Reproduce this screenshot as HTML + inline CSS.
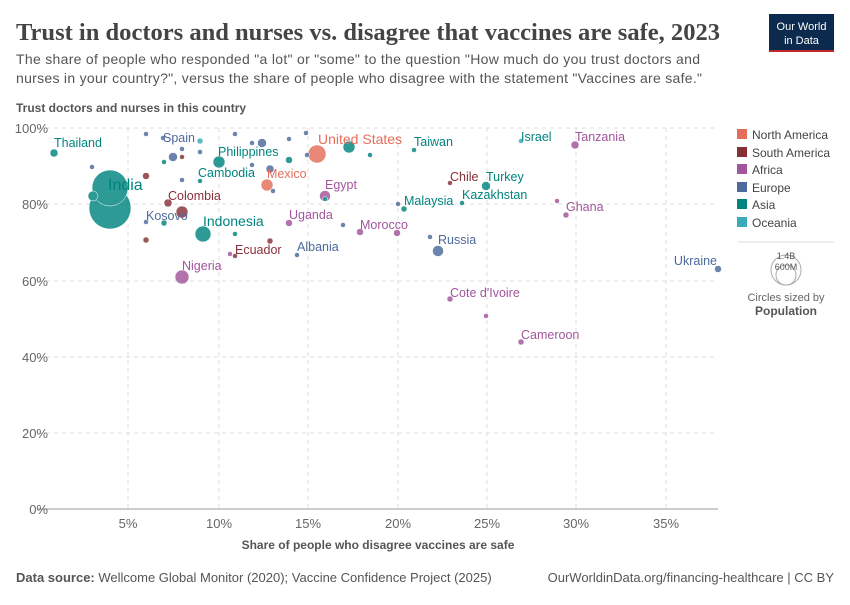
<!DOCTYPE html>
<html><head><meta charset="utf-8"><style>
body{margin:0;background:#fff;font-family:"Liberation Sans",sans-serif;}
</style></head><body>
<svg width="850" height="600" xmlns="http://www.w3.org/2000/svg" font-family="Liberation Sans, sans-serif">
<text x="16" y="40" font-family="Liberation Serif, serif" font-size="24" font-weight="bold" fill="#444" textLength="704" lengthAdjust="spacingAndGlyphs">Trust in doctors and nurses vs. disagree that vaccines are safe, 2023</text>
<rect x="769" y="14" width="65" height="38" fill="#0c2a4d"/>
<rect x="769" y="50" width="65" height="2" fill="#c0282e"/>
<text x="801.5" y="30" font-size="11" fill="#fff" text-anchor="middle">Our World</text>
<text x="801.5" y="44" font-size="11" fill="#fff" text-anchor="middle">in Data</text>
<text x="16" y="64" font-size="14" fill="#555" textLength="684">The share of people who responded "a lot" or "some" to the question "How much do you trust doctors and</text>
<text x="16" y="83" font-size="14" fill="#555" textLength="686">nurses in your country?", versus the share of people who disagree with the statement "Vaccines are safe."</text>
<text x="16" y="112" font-size="12" font-weight="bold" fill="#555">Trust doctors and nurses in this country</text>
<g stroke="#ddd" stroke-dasharray="4,4">
<line x1="38" y1="128" x2="718" y2="128"/><line x1="38" y1="204" x2="718" y2="204"/><line x1="38" y1="281" x2="718" y2="281"/><line x1="38" y1="357" x2="718" y2="357"/><line x1="38" y1="433" x2="718" y2="433"/>
<line x1="128" y1="128" x2="128" y2="509"/><line x1="219" y1="128" x2="219" y2="509"/><line x1="308" y1="128" x2="308" y2="509"/><line x1="398" y1="128" x2="398" y2="509"/><line x1="487" y1="128" x2="487" y2="509"/><line x1="576" y1="128" x2="576" y2="509"/><line x1="666" y1="128" x2="666" y2="509"/>
</g>
<line x1="38" y1="509" x2="718" y2="509" stroke="#999"/>
<g font-size="13" fill="#666" text-anchor="end">
<text x="48" y="133">100%</text><text x="48" y="209">80%</text><text x="48" y="286">60%</text><text x="48" y="362">40%</text><text x="48" y="438">20%</text><text x="48" y="514">0%</text>
</g>
<g font-size="13" fill="#666" text-anchor="middle">
<text x="128" y="528">5%</text><text x="219" y="528">10%</text><text x="308" y="528">15%</text><text x="398" y="528">20%</text><text x="487" y="528">25%</text><text x="576" y="528">30%</text><text x="666" y="528">35%</text>
</g>
<text x="378" y="549" font-size="12" font-weight="bold" fill="#555" text-anchor="middle">Share of people who disagree vaccines are safe</text>
<g stroke="#fff" stroke-width="0.5" opacity="0.82">
<circle cx="110" cy="208" r="21" fill="#00847e"/>
<circle cx="110" cy="188" r="18" fill="#00847e"/>
<circle cx="93" cy="196" r="5" fill="#00847e"/>
<circle cx="54" cy="153" r="4" fill="#00847e"/>
<circle cx="92" cy="167" r="2.5" fill="#4c6a9c"/>
<circle cx="146" cy="134" r="2.5" fill="#4c6a9c"/>
<circle cx="163" cy="138" r="2.5" fill="#4c6a9c"/>
<circle cx="200" cy="141" r="3" fill="#38aaba"/>
<circle cx="235" cy="134" r="2.5" fill="#4c6a9c"/>
<circle cx="173" cy="157" r="4.5" fill="#4c6a9c"/>
<circle cx="182" cy="157" r="2.5" fill="#883039"/>
<circle cx="182" cy="149" r="2.5" fill="#4c6a9c"/>
<circle cx="164" cy="162" r="2.5" fill="#00847e"/>
<circle cx="200" cy="152" r="2.5" fill="#4c6a9c"/>
<circle cx="219" cy="162" r="6" fill="#00847e"/>
<circle cx="262" cy="143" r="4.5" fill="#4c6a9c"/>
<circle cx="252" cy="143" r="2.5" fill="#4c6a9c"/>
<circle cx="289" cy="139" r="2.5" fill="#4c6a9c"/>
<circle cx="306" cy="133" r="2.5" fill="#4c6a9c"/>
<circle cx="289" cy="160" r="3.5" fill="#00847e"/>
<circle cx="270" cy="169" r="4" fill="#4c6a9c"/>
<circle cx="252" cy="165" r="2.5" fill="#4c6a9c"/>
<circle cx="317" cy="154" r="9" fill="#e56e5a"/>
<circle cx="349" cy="147" r="6" fill="#00847e"/>
<circle cx="370" cy="155" r="2.5" fill="#00847e"/>
<circle cx="307" cy="155" r="2.5" fill="#4c6a9c"/>
<circle cx="146" cy="176" r="3.5" fill="#883039"/>
<circle cx="182" cy="180" r="2.5" fill="#4c6a9c"/>
<circle cx="200" cy="181" r="2.5" fill="#00847e"/>
<circle cx="267" cy="185" r="6" fill="#e56e5a"/>
<circle cx="273" cy="191" r="2.5" fill="#4c6a9c"/>
<circle cx="325" cy="196" r="5.5" fill="#a2559c"/>
<circle cx="325" cy="199" r="2.5" fill="#00847e"/>
<circle cx="168" cy="203" r="4" fill="#883039"/>
<circle cx="182" cy="212" r="6" fill="#883039"/>
<circle cx="146" cy="222" r="2.5" fill="#4c6a9c"/>
<circle cx="164" cy="223" r="3" fill="#00847e"/>
<circle cx="203" cy="234" r="8" fill="#00847e"/>
<circle cx="235" cy="234" r="2.5" fill="#00847e"/>
<circle cx="289" cy="223" r="3.5" fill="#a2559c"/>
<circle cx="343" cy="225" r="2.5" fill="#4c6a9c"/>
<circle cx="360" cy="232" r="3.5" fill="#a2559c"/>
<circle cx="397" cy="233" r="3.5" fill="#a2559c"/>
<circle cx="146" cy="240" r="3" fill="#883039"/>
<circle cx="270" cy="241" r="3" fill="#883039"/>
<circle cx="230" cy="254" r="2.5" fill="#a2559c"/>
<circle cx="235" cy="256" r="2.5" fill="#883039"/>
<circle cx="297" cy="255" r="2.5" fill="#4c6a9c"/>
<circle cx="182" cy="277" r="7" fill="#a2559c"/>
<circle cx="398" cy="204" r="2.5" fill="#4c6a9c"/>
<circle cx="404" cy="209" r="3" fill="#00847e"/>
<circle cx="414" cy="150" r="2.5" fill="#00847e"/>
<circle cx="450" cy="183" r="2.5" fill="#883039"/>
<circle cx="486" cy="186" r="4.5" fill="#00847e"/>
<circle cx="462" cy="203" r="2.5" fill="#00847e"/>
<circle cx="430" cy="237" r="2.5" fill="#4c6a9c"/>
<circle cx="438" cy="251" r="5.5" fill="#4c6a9c"/>
<circle cx="450" cy="299" r="3" fill="#a2559c"/>
<circle cx="486" cy="316" r="2.5" fill="#a2559c"/>
<circle cx="521" cy="342" r="3" fill="#a2559c"/>
<circle cx="521" cy="141" r="2.5" fill="#38aaba"/>
<circle cx="575" cy="145" r="4" fill="#a2559c"/>
<circle cx="557" cy="201" r="2.5" fill="#a2559c"/>
<circle cx="566" cy="215" r="3" fill="#a2559c"/>
<circle cx="718" cy="269" r="3.5" fill="#4c6a9c"/>
</g>
<g font-size="12.5">
<text x="54" y="147" fill="#00847e">Thailand</text>
<text x="163" y="142" fill="#4c6a9c">Spain</text>
<text x="218" y="156" fill="#00847e">Philippines</text>
<text x="198" y="177" fill="#00847e">Cambodia</text>
<text x="267" y="178" fill="#e56e5a">Mexico</text>
<text x="318" y="144" fill="#e56e5a" font-size="14">United States</text>
<text x="414" y="146" fill="#00847e">Taiwan</text>
<text x="108" y="190" fill="#00847e" font-size="16">India</text>
<text x="168" y="200" fill="#883039">Colombia</text>
<text x="325" y="189" fill="#a2559c">Egypt</text>
<text x="146" y="220" fill="#4c6a9c">Kosovo</text>
<text x="203" y="226" fill="#00847e" font-size="14">Indonesia</text>
<text x="289" y="219" fill="#a2559c">Uganda</text>
<text x="360" y="229" fill="#a2559c">Morocco</text>
<text x="235" y="254" fill="#883039">Ecuador</text>
<text x="297" y="251" fill="#4c6a9c">Albania</text>
<text x="182" y="270" fill="#a2559c">Nigeria</text>
<text x="404" y="205" fill="#00847e">Malaysia</text>
<text x="450" y="181" fill="#883039">Chile</text>
<text x="486" y="181" fill="#00847e">Turkey</text>
<text x="462" y="199" fill="#00847e">Kazakhstan</text>
<text x="438" y="244" fill="#4c6a9c">Russia</text>
<text x="450" y="297" fill="#a2559c">Cote d'Ivoire</text>
<text x="521" y="339" fill="#a2559c">Cameroon</text>
<text x="521" y="141" fill="#00847e">Israel</text>
<text x="575" y="141" fill="#a2559c">Tanzania</text>
<text x="566" y="211" fill="#a2559c">Ghana</text>
<text x="717" y="265" fill="#4c6a9c" text-anchor="end">Ukraine</text>
</g>
<g font-size="12" fill="#444">
<rect x="737" y="129" width="10" height="10" fill="#e56e5a"/><text x="752" y="139">North America</text>
<rect x="737" y="147" width="10" height="10" fill="#883039"/><text x="752" y="157">South America</text>
<rect x="737" y="164" width="10" height="10" fill="#a2559c"/><text x="752" y="174">Africa</text>
<rect x="737" y="182" width="10" height="10" fill="#4c6a9c"/><text x="752" y="192">Europe</text>
<rect x="737" y="199" width="10" height="10" fill="#00847e"/><text x="752" y="209">Asia</text>
<rect x="737" y="217" width="10" height="10" fill="#38aaba"/><text x="752" y="227">Oceania</text>
</g>
<line x1="738" y1="242" x2="834" y2="242" stroke="#ddd"/>
<circle cx="786" cy="270" r="15" fill="none" stroke="#aaa"/>
<circle cx="786" cy="275" r="10" fill="none" stroke="#aaa"/>
<text x="786" y="259" font-size="9" fill="#555" text-anchor="middle">1.4B</text>
<text x="786" y="270" font-size="9" fill="#555" text-anchor="middle">600M</text>
<text x="786" y="301" font-size="11" fill="#666" text-anchor="middle">Circles sized by</text>
<text x="786" y="315" font-size="12" font-weight="bold" fill="#555" text-anchor="middle">Population</text>
<text x="16" y="582" font-size="13" fill="#555"><tspan font-weight="bold">Data source:</tspan> Wellcome Global Monitor (2020); Vaccine Confidence Project (2025)</text>
<text x="834" y="582" font-size="13" fill="#555" text-anchor="end">OurWorldinData.org/financing-healthcare | CC BY</text>
</svg>
</body></html>
